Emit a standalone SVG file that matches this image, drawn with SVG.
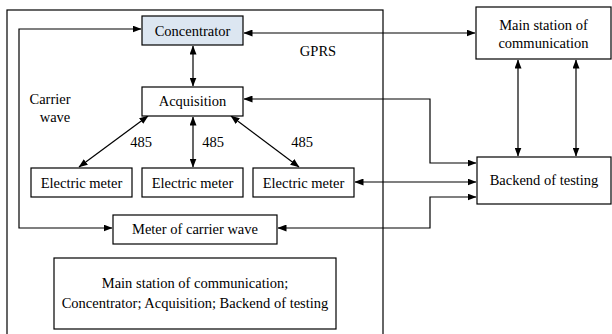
<svg xmlns="http://www.w3.org/2000/svg" width="612" height="334" viewBox="0 0 612 334">
<style>
.box{fill:#fff;stroke:#000;stroke-width:1.2}
.blue{fill:#dce6f1}
.t{font-size:14.5px;fill:#000;text-anchor:middle}
.c{fill:none;stroke:#000;stroke-width:1.2}
</style>
<defs>
<marker id="a" markerUnits="userSpaceOnUse" markerWidth="9" markerHeight="7" viewBox="0 0 9 7" refX="8.5" refY="3.5" orient="auto-start-reverse">
<path d="M0,0 L9,3.5 L0,7 z" fill="#000"/>
</marker>
</defs>
<rect x="7" y="10" width="376" height="340" fill="none" stroke="#000" stroke-width="1.2"/>
<g id="connectors">
<polyline class="c" points="141,29 19,29 19,228 112,228" marker-start="url(#a)" marker-end="url(#a)"/>
<line class="c" x1="244" y1="33" x2="475" y2="33" marker-start="url(#a)" marker-end="url(#a)"/>
<line class="c" x1="193" y1="46" x2="193" y2="86" marker-start="url(#a)" marker-end="url(#a)"/>
<polyline class="c" points="244,99 430,99 430,163 476,163" marker-start="url(#a)" marker-end="url(#a)"/>
<line class="c" x1="148" y1="116" x2="79" y2="167" marker-start="url(#a)" marker-end="url(#a)"/>
<line class="c" x1="193" y1="117" x2="193" y2="167" marker-start="url(#a)" marker-end="url(#a)"/>
<line class="c" x1="231" y1="116" x2="299" y2="167" marker-start="url(#a)" marker-end="url(#a)"/>
<line class="c" x1="355" y1="182" x2="476" y2="182" marker-start="url(#a)" marker-end="url(#a)"/>
<polyline class="c" points="278,228 430,228 430,197 476,197" marker-start="url(#a)" marker-end="url(#a)"/>
<line class="c" x1="518" y1="60" x2="518" y2="156" marker-start="url(#a)" marker-end="url(#a)"/>
<line class="c" x1="576" y1="60" x2="576" y2="156" marker-start="url(#a)" marker-end="url(#a)"/>
</g>
<g font-family="Liberation Serif, DejaVu Serif, serif">
<g id="concentrator"><rect class="box blue" x="142" y="16" width="101" height="29"/><text class="t" x="192.5" y="35.5">Concentrator</text></g>
<g id="acquisition"><rect class="box" x="142" y="87" width="101" height="29"/><text class="t" x="192.5" y="106">Acquisition</text></g>
<g id="main-station"><rect class="box" x="476" y="7" width="135" height="52"/><text class="t" x="543.5" y="30">Main station of</text><text class="t" x="543.5" y="48">communication</text></g>
<g id="backend"><rect class="box" x="477" y="157" width="134" height="47"/><text class="t" x="544" y="185">Backend of testing</text></g>
<g id="meter1"><rect class="box" x="31" y="168" width="101" height="29"/><text class="t" x="81.5" y="187.5">Electric meter</text></g>
<g id="meter2"><rect class="box" x="142" y="168" width="101" height="29"/><text class="t" x="192.5" y="187.5">Electric meter</text></g>
<g id="meter3"><rect class="box" x="253" y="168" width="101" height="29"/><text class="t" x="303.5" y="187.5">Electric meter</text></g>
<g id="carrier-meter"><rect class="box" x="113" y="215" width="164" height="29"/><text class="t" x="195" y="234">Meter of carrier wave</text></g>
<g id="legend"><rect class="box" x="54" y="258" width="282" height="71"/><text class="t" x="195" y="288">Main station of communication;</text><text class="t" x="195" y="308">Concentrator; Acquisition; Backend of testing</text></g>
<g id="labels">
<text class="t" x="318" y="56">GPRS</text>
<text class="t" x="50" y="104">Carrier</text>
<text class="t" x="55" y="122">wave</text>
<text class="t" x="141" y="147">485</text>
<text class="t" x="213" y="147">485</text>
<text class="t" x="302" y="147">485</text>
</g>
</g>
</svg>
